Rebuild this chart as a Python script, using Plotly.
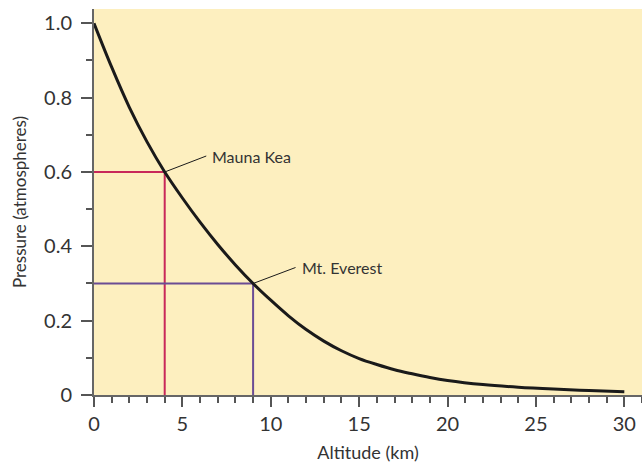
import plotly.graph_objects as go

# Curve
altitude_km = [0, 1, 2, 3, 4, 5, 6, 7, 8, 9, 10, 11, 12, 13, 14, 15, 16, 17, 18, 19, 20, 22, 24, 26, 28, 30]
pressure_atm = [1.0, 0.882, 0.774, 0.681, 0.60, 0.53, 0.465, 0.405, 0.35, 0.30, 0.255, 0.213, 0.176, 0.145, 0.119, 0.098, 0.082, 0.068, 0.057, 0.047, 0.039, 0.028, 0.021, 0.016, 0.012, 0.009]

# Marked peaks
peak_names = ["Mauna Kea", "Mt. Everest"]
peak_alt = [4, 9]
peak_pres = [0.6, 0.3]
peak_colors = ["#c8285a", "#6b4c94"]
label_pos_x = [6.35, 11.4]
label_pos_y = [0.643, 0.343]

y_tickvals = [0, 0.2, 0.4, 0.6, 0.8, 1.0]
y_ticktext = ["0", "0.2", "0.4", "0.6", "0.8", "1.0"]
x_tickvals = [0, 5, 10, 15, 20, 25, 30]

FONT = "Lato"
TXT = "#333333"

fig = go.Figure()

for name, a, p, c in zip(peak_names, peak_alt, peak_pres, peak_colors):
    fig.add_trace(go.Scatter(x=[0, a, a], y=[p, p, 0], mode="lines",
                             line=dict(color=c, width=2), hoverinfo="skip", showlegend=False))

fig.add_trace(go.Scatter(x=altitude_km, y=pressure_atm, mode="lines",
                         line=dict(color="#1a1a1a", width=3, shape="spline", smoothing=1.0),
                         showlegend=False))

for name, a, p, lx, ly in zip(peak_names, peak_alt, peak_pres, label_pos_x, label_pos_y):
    fig.add_trace(go.Scatter(x=[a, lx], y=[p, ly], mode="lines",
                             line=dict(color="#1a1a1a", width=1), hoverinfo="skip", showlegend=False))
    fig.add_annotation(x=lx, y=ly, text=name, showarrow=False, xanchor="left", yanchor="middle",
                       xshift=4, font=dict(family=FONT, size=16, color=TXT))

fig.update_layout(
    width=642, height=464,
    margin=dict(l=94, r=0, t=9, b=69),
    paper_bgcolor="white",
    plot_bgcolor="#fdefbf",
    font=dict(family=FONT, color=TXT),
)
fig.update_xaxes(
    range=[0, 31.0], showgrid=False, zeroline=False, automargin=False,
    showline=True, linecolor="#666", linewidth=2,
    ticks="outside", ticklen=10, tickwidth=1.5, tickcolor="#555",
    tickvals=x_tickvals, tickfont=dict(family=FONT, size=20, color=TXT),
    minor=dict(dtick=1, tick0=0, ticks="outside", ticklen=6, tickwidth=1.5, tickcolor="#555", showgrid=False),
    title=dict(text="Altitude (km)", font=dict(family=FONT, size=18, color=TXT), standoff=12),
)
fig.update_yaxes(
    range=[0, 1.0385], showgrid=False, zeroline=False, automargin=False,
    showline=True, linecolor="#666", linewidth=2,
    ticks="outside", ticklen=11, tickwidth=1.5, tickcolor="#555", ticklabelstandoff=5,
    tickvals=y_tickvals, ticktext=y_ticktext, tickfont=dict(family=FONT, size=20, color=TXT),
    minor=dict(dtick=0.1, tick0=0, ticks="outside", ticklen=6, tickwidth=1.5, tickcolor="#555", showgrid=False),
    title=dict(text="Pressure (atmospheres)", font=dict(family=FONT, size=17, color=TXT), standoff=13),
)

fig.write_html("out.html", config={"displayModeBar": False},
               post_script="document.body.style.margin='0';")
